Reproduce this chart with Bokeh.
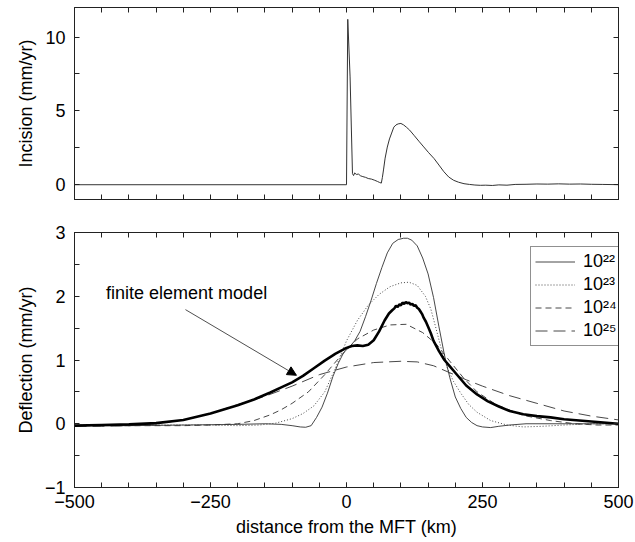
from bokeh.plotting import figure
from bokeh.layouts import column
from bokeh.models import (FixedTicker, LinearAxis, Range1d, Legend, LegendItem,
                          Arrow, NormalHead, Label)
from bokeh.embed import file_html
from bokeh.resources import INLINE

# ---------------- data ----------------
# Top panel: incision rate (mm/yr) vs distance from the MFT (km)
inc_x = [-500, 0, 2.3, 6.6, 11, 13, 15, 18, 22, 26, 30, 35, 40, 46, 52, 57, 61, 64,
         66, 68, 71, 75, 79, 83, 87, 91, 95, 100, 105, 110, 116, 124, 133, 142, 151,
         161, 170, 179, 188, 197, 206, 216, 226, 236, 246, 256, 268, 280, 295, 310,
         330, 350, 370, 390, 410, 430, 450, 470, 490, 500]
inc_y = [0, 0, 11.2, 7.3, 0.75, 0.62, 0.8, 0.7, 0.72, 0.6, 0.55, 0.5, 0.42, 0.38, 0.3,
         0.22, 0.15, 0.11, 0.5, 1.0, 1.8, 2.55, 3.1, 3.5, 3.9, 4.05, 4.12, 4.15, 4.05,
         3.9, 3.7, 3.35, 2.95, 2.56, 2.17, 1.77, 1.33, 0.88, 0.52, 0.3, 0.17, 0.07,
         0.02, -0.02, -0.04, -0.03, -0.05, -0.01, -0.03, 0.02, 0.03, 0.05, 0.04, 0.06,
         0.04, 0.05, 0.03, 0.02, 0.01, 0.0]

# Bottom panel: deflection (mm/yr)
fem_x = [-500, -450, -400, -350, -300, -250, -200, -170, -140, -120, -100, -80, -60,
         -40, -20, 0, 10, 20, 30, 40, 50, 60, 70, 78, 84, 88, 91, 94, 97, 100, 103,
         106, 109, 112, 115, 118, 121, 124, 127, 130, 133, 136, 139, 142, 146, 150,
         155, 160, 170, 180, 190, 200, 220, 240, 260, 280, 300, 325, 350, 375, 400,
         450, 500]
fem_y = [-0.03, -0.02, -0.01, 0.01, 0.06, 0.16, 0.29, 0.38, 0.49, 0.57, 0.65, 0.75,
         0.87, 0.99, 1.1, 1.19, 1.22, 1.23, 1.22, 1.24, 1.31, 1.45, 1.62, 1.73, 1.78,
         1.81, 1.85, 1.83, 1.87, 1.86, 1.9, 1.88, 1.91, 1.89, 1.9, 1.87, 1.88, 1.85,
         1.86, 1.82, 1.8, 1.76, 1.72, 1.66, 1.6, 1.52, 1.42, 1.3, 1.14, 1.0, 0.9, 0.8,
         0.6, 0.46, 0.35, 0.27, 0.2, 0.15, 0.12, 0.1, 0.07, 0.035, 0.0]

d22_x = [-500, -400, -300, -200, -150, -120, -100, -85, -75, -65, -55, -45, -35, -25,
         -15, -5, 5, 15, 25, 35, 45, 55, 65, 75, 85, 95, 105, 112, 120, 130, 140, 150,
         160, 170, 180, 190, 200, 210, 220, 230, 240, 250, 265, 280, 300, 330, 400, 500]
d22_y = [-0.03, -0.03, -0.02, -0.01, 0.0, -0.01, -0.03, -0.05, -0.055, -0.03, 0.1,
         0.26, 0.48, 0.74, 0.95, 1.12, 1.2, 1.3, 1.45, 1.68, 1.93, 2.2, 2.45, 2.68,
         2.83, 2.89, 2.91, 2.91, 2.88, 2.79, 2.6, 2.35, 1.98, 1.52, 1.08, 0.72, 0.42,
         0.24, 0.1, 0.02, -0.03, -0.05, -0.06, -0.04, -0.02, 0.0, 0.0, 0.0]

d23_x = [-500, -400, -300, -250, -200, -160, -130, -100, -80, -60, -40, -20, 0, 20, 40,
         60, 80, 100, 115, 130, 145, 155, 165, 175, 185, 197, 210, 225, 240, 265, 295,
         325, 360, 400, 450, 500]
d23_y = [-0.02, -0.02, -0.02, -0.02, -0.03, -0.02, 0.01, 0.08, 0.16, 0.28, 0.5, 0.88,
         1.3, 1.62, 1.86, 2.03, 2.15, 2.21, 2.22, 2.17, 2.0, 1.8, 1.48, 1.15, 0.88,
         0.66, 0.48, 0.3, 0.18, 0.05, -0.02, -0.05, -0.04, -0.02, 0.0, 0.0]

d24_x = [-500, -400, -300, -250, -200, -170, -140, -120, -100, -70, -40, -10, 20, 50,
         80, 110, 140, 165, 190, 215, 240, 275, 325, 375, 420, 460, 500]
d24_y = [-0.03, -0.03, -0.03, -0.02, 0.0, 0.05, 0.14, 0.22, 0.32, 0.5, 0.77, 1.07,
         1.33, 1.47, 1.55, 1.56, 1.43, 1.25, 0.98, 0.72, 0.5, 0.3, 0.13, 0.05, 0.0,
         -0.02, -0.02]

d25_x = [-500, -450, -400, -350, -300, -250, -200, -150, -100, -50, 0, 50, 100, 130,
         160, 190, 220, 250, 300, 350, 400, 450, 500]
d25_y = [-0.04, -0.04, -0.03, 0.0, 0.06, 0.16, 0.3, 0.43, 0.59, 0.77, 0.89, 0.96,
         0.98, 0.97, 0.91, 0.8, 0.69, 0.59, 0.44, 0.32, 0.2, 0.12, 0.06]

legend_labels = ["10\u00b2\u00b2", "10\u00b2\u00b3", "10\u00b2\u2074", "10\u00b2\u2075"]

x_major = [-500, -250, 0, 250, 500]
x_minor = list(range(-500, 501, 50))
inc_major = [0, 5, 10]
inc_minor = [2.5, 7.5]
def_major = [-1, 0, 1, 2, 3]
def_minor = [-0.5, 0.5, 1.5, 2.5]

# ---------------- styling helpers ----------------
FONT = "Liberation Sans"
AX = "#222222"
TXT = "18px"


def style_axis(ax):
    ax.major_label_text_font = FONT
    ax.major_label_text_font_size = TXT
    ax.major_label_text_color = "black"
    ax.axis_label_text_font = FONT
    ax.axis_label_text_font_size = TXT
    ax.axis_label_text_font_style = "normal"
    ax.axis_label_text_color = "black"
    ax.major_tick_in = 5
    ax.major_tick_out = 0
    ax.minor_tick_in = 5
    ax.minor_tick_out = 0
    ax.axis_line_color = AX
    ax.major_tick_line_color = AX
    ax.minor_tick_line_color = AX


def tick_only_axis(major, minor):
    # an axis with tick marks only: every tick is a (label-free) minor tick
    ax = LinearAxis(ticker=FixedTicker(ticks=[], minor_ticks=sorted(set(major + minor))))
    style_axis(ax)
    ax.major_label_standoff = 0
    return ax


def make_fig(height, y0, y1, ymaj, ymin, top, bottom, x_labels=True):
    p = figure(width=635, height=height, x_range=Range1d(-500, 500),
               y_range=Range1d(y0, y1), output_backend="svg",
               toolbar_location=None, min_border_left=74, min_border_right=17,
               min_border_top=top, min_border_bottom=bottom,
               x_axis_location=None, y_axis_location=None)
    p.grid.visible = False
    p.outline_line_color = AX
    p.outline_line_alpha = 1
    p.background_fill_color = "white"
    p.border_fill_color = "white"
    if x_labels:
        xb = LinearAxis(ticker=FixedTicker(ticks=x_major, minor_ticks=x_minor))
        style_axis(xb)
    else:
        xb = tick_only_axis(x_major, x_minor)
    yl = LinearAxis(ticker=FixedTicker(ticks=ymaj, minor_ticks=ymin))
    style_axis(yl)
    p.add_layout(xb, "below")
    p.add_layout(yl, "left")
    p.add_layout(tick_only_axis(x_major, x_minor), "above")
    p.add_layout(tick_only_axis(ymaj, ymin), "right")
    return p, xb, yl


# ---------------- top panel ----------------
p1, xb1, yl1 = make_fig(216, -1, 12, inc_major, inc_minor, top=7, bottom=17,
                        x_labels=False)
p1.line(inc_x, inc_y, line_color="#333333", line_width=1)
yl1.axis_label = "Incision (mm/yr)"
yl1.major_label_standoff = 9
yl1.axis_label_standoff = 6

# ---------------- bottom panel ----------------
p2, xa, ya = make_fig(326, -1, 3, def_major, def_minor, top=16, bottom=55)
thin = dict(line_color="#333333", line_width=0.9)
r22 = p2.line(d22_x, d22_y, **thin)
r23 = p2.line(d23_x, d23_y, line_dash="1 2", **thin)
r24 = p2.line(d24_x, d24_y, line_dash="6 4", **thin)
r25 = p2.line(d25_x, d25_y, line_dash="12 6", **thin)
p2.line(fem_x, fem_y, line_color="black", line_width=2.6)

xa.axis_label = "distance from the MFT (km)"
xa.major_label_standoff = 7
xa.axis_label_standoff = 6
xa.major_label_overrides = {-500: "\u2212500", -250: "\u2212250"}
ya.axis_label = "Deflection (mm/yr)"
ya.major_label_standoff = 9
ya.axis_label_standoff = 6
ya.major_label_overrides = {-1: "\u22121"}

p2.add_layout(Label(x=-442, y=2.05, text="finite element model",
                    text_baseline="middle", text_font=FONT, text_font_size=TXT,
                    text_color="black"))
p2.add_layout(Arrow(end=NormalHead(size=9, fill_color="black", line_color="black"),
                    x_start=-296, y_start=1.79, x_end=-92, y_end=0.76,
                    line_color=AX, line_width=0.8))

legend = Legend(items=[LegendItem(label=legend_labels[0], renderers=[r22]),
                       LegendItem(label=legend_labels[1], renderers=[r23]),
                       LegendItem(label=legend_labels[2], renderers=[r24]),
                       LegendItem(label=legend_labels[3], renderers=[r25])],
                location=(456, 141), margin=0, padding=4, spacing=2,
                label_height=21, glyph_height=21, glyph_width=40,
                label_standoff=8, label_text_font=FONT, label_text_font_size=TXT,
                label_text_color="black", border_line_color=AX,
                border_line_width=1, background_fill_color="white",
                background_fill_alpha=1)
p2.add_layout(legend, "center")

layout = column(p1, p2, spacing=0)
open("out.html", "w").write(file_html(layout, INLINE))
